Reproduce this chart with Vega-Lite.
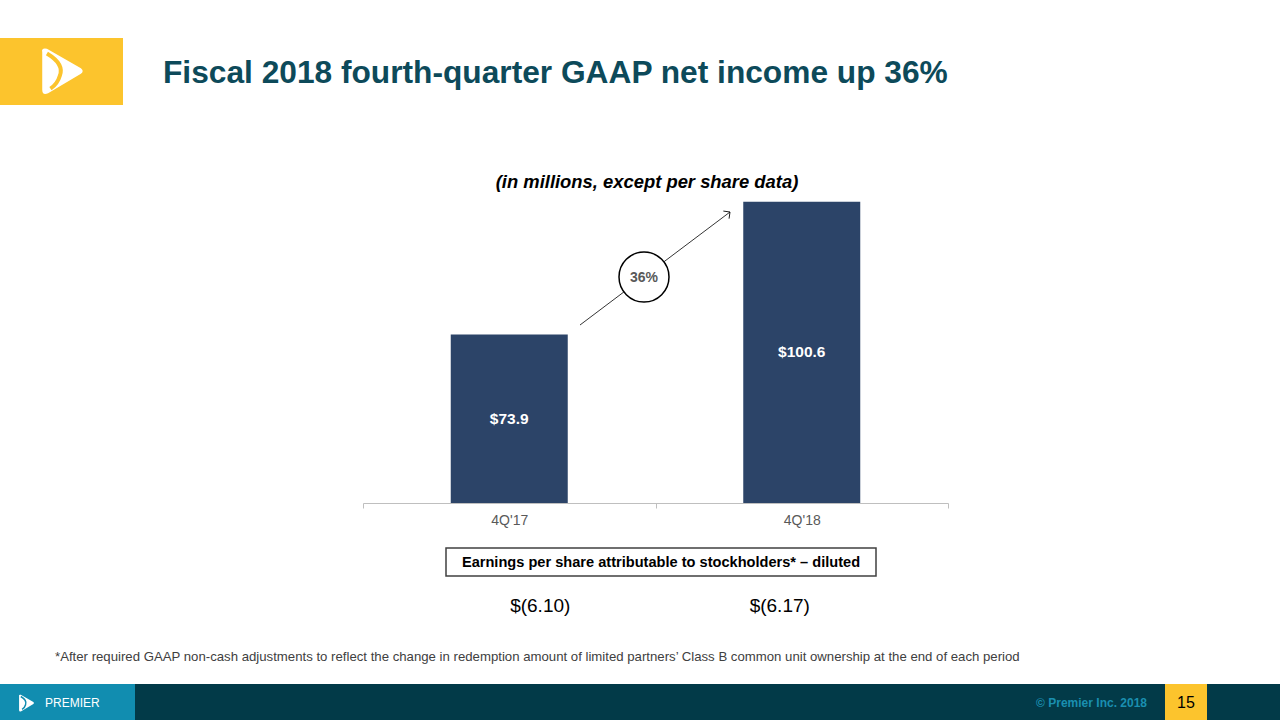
{
  "$schema": "https://vega.github.io/schema/vega-lite/v6.json",
  "width": 585,
  "height": 348,
  "autosize": {"type": "none"},
  "padding": {"left": 363, "top": 155, "right": 332, "bottom": 217},
  "background": "white",
  "config": {"view": {"stroke": null}, "font": "Liberation Sans"},
  "data": {"values": [
    {"quarter": "4Q'17", "income": 73.9, "eps": "$(6.10)"},
    {"quarter": "4Q'18", "income": 100.6, "eps": "$(6.17)"}
  ]},
  "layer": [
    {
      "data": {"values": [{}]},
      "mark": {"type": "rect", "color": "#fcc42d"},
      "encoding": {"x": {"value": -363}, "x2": {"value": -240}, "y": {"value": -117}, "y2": {"value": -50}}
    },
    {
      "data": {"values": [{}]},
      "mark": {"type": "point", "shape": "M-0.8,-0.8 Q-0.85,-1 -0.6,-0.95 L0.85,-0.12 Q1,0 0.85,0.12 L-0.55,0.95 Q-0.8,1.05 -0.8,0.8 Z", "filled": true, "color": "white", "opacity": 1, "size": 2200},
      "encoding": {"x": {"value": -302}, "y": {"value": -84}}
    },
    {
      "data": {"values": [{}]},
      "mark": {"type": "point", "shape": "M-0.6,-0.75 Q0.15,-0.3 -0.05,0.2 Q-0.15,0.55 -0.45,0.75", "filled": false, "stroke": "#fcc42d", "strokeWidth": 4, "opacity": 1, "size": 2200},
      "encoding": {"x": {"value": -302}, "y": {"value": -84}}
    },
    {
      "data": {"values": [{}]},
      "mark": {"type": "text", "text": "Fiscal 2018 fourth-quarter GAAP net income up 36%", "fontSize": 31.7, "fontWeight": "bold", "color": "#0d4a5a", "align": "left", "baseline": "alphabetic"},
      "encoding": {"x": {"value": -200}, "y": {"value": -72}}
    },
    {
      "data": {"values": [{}]},
      "mark": {"type": "text", "text": "(in millions, except per share data)", "fontSize": 18.4, "fontWeight": "bold", "fontStyle": "italic", "color": "#000000", "align": "center", "baseline": "middle"},
      "encoding": {"x": {"value": 284}, "y": {"value": 27}}
    },
    {
      "mark": {"type": "bar", "color": "#2c4468", "width": {"band": 0.4}},
      "encoding": {
        "x": {
          "field": "quarter", "type": "nominal", "sort": null,
          "scale": {"paddingInner": 0, "paddingOuter": 0},
          "axis": {"title": null, "labelAngle": 0, "domainColor": "#bfbfbf", "tickColor": "#bfbfbf", "tickSize": 5, "tickBand": "extent", "labelFont": "Liberation Sans", "labelFontSize": 14, "labelColor": "#595959", "labelPadding": 5}
        },
        "y": {"field": "income", "type": "quantitative", "scale": {"domain": [40, 110], "nice": false, "zero": false}, "axis": null},
        "y2": {"datum": 40}
      }
    },
    {
      "mark": {"type": "text", "color": "white", "fontSize": 15.5, "fontWeight": "bold", "baseline": "middle", "align": "center"},
      "encoding": {
        "x": {"field": "quarter", "type": "nominal", "sort": null},
        "y": {"field": "income", "type": "quantitative", "scale": {"domain": [40, 180], "nice": false, "zero": false}, "axis": null},
        "text": {"field": "income", "type": "quantitative", "format": "$.1f"}
      }
    },
    {
      "data": {"values": [{}]},
      "mark": {"type": "rule", "color": "#000000", "strokeWidth": 0.8},
      "encoding": {"x": {"value": 217}, "y": {"value": 170}, "x2": {"value": 367}, "y2": {"value": 57}}
    },
    {
      "data": {"values": [{}]},
      "mark": {"type": "point", "shape": "M-1,-1 L0,0 L-1,1", "filled": false, "color": "#000000", "strokeWidth": 0.8, "opacity": 1, "size": 90, "angle": -37},
      "encoding": {"x": {"value": 367}, "y": {"value": 57}}
    },
    {
      "data": {"values": [{}]},
      "mark": {"type": "point", "shape": "circle", "filled": false, "fill": "white", "fillOpacity": 1, "stroke": "#000000", "strokeWidth": 1.5, "opacity": 1, "size": 2500},
      "encoding": {"x": {"value": 281}, "y": {"value": 122}}
    },
    {
      "data": {"values": [{}]},
      "mark": {"type": "text", "text": "36%", "fontSize": 14, "fontWeight": "bold", "color": "#595959", "align": "center", "baseline": "middle"},
      "encoding": {"x": {"value": 281}, "y": {"value": 123}}
    },
    {
      "data": {"values": [{}]},
      "mark": {"type": "rect", "fill": "white", "stroke": "#404040", "strokeWidth": 1.5},
      "encoding": {"x": {"value": 83}, "x2": {"value": 513}, "y": {"value": 393}, "y2": {"value": 421}}
    },
    {
      "data": {"values": [{}]},
      "mark": {"type": "text", "text": "Earnings per share attributable to stockholders* – diluted", "fontSize": 14.6, "fontWeight": "bold", "color": "#000000", "align": "center", "baseline": "middle"},
      "encoding": {"x": {"value": 298}, "y": {"value": 408}}
    },
    {
      "transform": [{"filter": "datum.quarter === \"4Q'17\""}],
      "mark": {"type": "text", "fontSize": 19, "color": "#000000", "align": "center", "baseline": "middle", "dx": 31},
      "encoding": {"x": {"field": "quarter", "type": "nominal", "sort": null}, "y": {"value": 451}, "text": {"field": "eps"}}
    },
    {
      "transform": [{"filter": "datum.quarter === \"4Q'18\""}],
      "mark": {"type": "text", "fontSize": 19, "color": "#000000", "align": "center", "baseline": "middle", "dx": -22},
      "encoding": {"x": {"field": "quarter", "type": "nominal", "sort": null}, "y": {"value": 451}, "text": {"field": "eps"}}
    },
    {
      "data": {"values": [{}]},
      "mark": {"type": "text", "text": "*After required GAAP non-cash adjustments to reflect the change in redemption amount of limited partners’ Class B common unit ownership at the end of each period", "fontSize": 13.2, "color": "#404040", "align": "left", "baseline": "middle"},
      "encoding": {"x": {"value": -308}, "y": {"value": 502}}
    },
    {
      "data": {"values": [{}]},
      "mark": {"type": "rect", "color": "#023a48"},
      "encoding": {"x": {"value": -363}, "x2": {"value": 917}, "y": {"value": 529}, "y2": {"value": 565}}
    },
    {
      "data": {"values": [{}]},
      "mark": {"type": "rect", "color": "#118db0"},
      "encoding": {"x": {"value": -363}, "x2": {"value": -228}, "y": {"value": 529}, "y2": {"value": 565}}
    },
    {
      "data": {"values": [{}]},
      "mark": {"type": "rect", "color": "#fcc42d"},
      "encoding": {"x": {"value": 802}, "x2": {"value": 844}, "y": {"value": 529}, "y2": {"value": 565}}
    },
    {
      "data": {"values": [{}]},
      "mark": {"type": "text", "text": "15", "fontSize": 16, "color": "#000000", "align": "center", "baseline": "middle"},
      "encoding": {"x": {"value": 823}, "y": {"value": 548}}
    },
    {
      "data": {"values": [{}]},
      "mark": {"type": "text", "text": "© Premier Inc. 2018", "fontSize": 12, "fontWeight": "bold", "color": "#1a8fb0", "align": "right", "baseline": "middle"},
      "encoding": {"x": {"value": 784}, "y": {"value": 548}}
    },
    {
      "data": {"values": [{}]},
      "mark": {"type": "text", "text": "PREMIER", "fontSize": 12, "color": "white", "align": "left", "baseline": "middle", "letterSpacing": 3.5},
      "encoding": {"x": {"value": -318}, "y": {"value": 548}}
    },
    {
      "data": {"values": [{}]},
      "mark": {"type": "point", "shape": "M-0.8,-0.8 Q-0.85,-1 -0.6,-0.95 L0.85,-0.12 Q1,0 0.85,0.12 L-0.55,0.95 Q-0.8,1.05 -0.8,0.8 Z", "filled": true, "color": "white", "opacity": 1, "size": 300},
      "encoding": {"x": {"value": -337}, "y": {"value": 548}}
    },
    {
      "data": {"values": [{}]},
      "mark": {"type": "point", "shape": "M-0.6,-0.75 Q0.15,-0.3 -0.05,0.2 Q-0.15,0.55 -0.45,0.75", "filled": false, "stroke": "#118db0", "strokeWidth": 1.5, "opacity": 1, "size": 300},
      "encoding": {"x": {"value": -337}, "y": {"value": 548}}
    }
  ],
  "resolve": {"scale": {"y": "independent"}}
}
